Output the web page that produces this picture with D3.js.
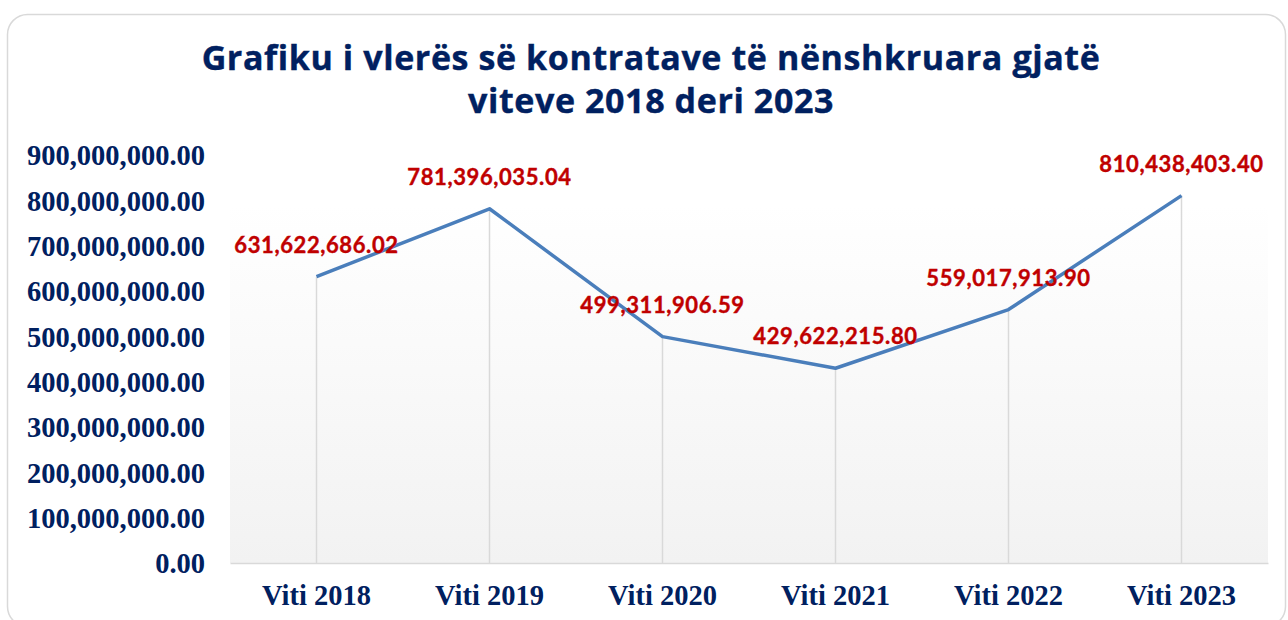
<!doctype html>
<html>
  <head>
    <meta charset="UTF-8">
    <title>Grafiku i kontratave</title>
    <style>
      body { margin: 0; background: #fff; }
      .title { font-family: "Open Sans", Lato, sans-serif; font-weight: 700; fill: #002060; }
      .yaxis text, .xaxis text { font-family: "Liberation Serif", "Times New Roman", serif; font-weight: 700; fill: #002060; }
      .lbl { font-family: Lato, "Open Sans", sans-serif; font-weight: 700; fill: #c00000; }
    </style>
  </head>
  <body>
    <svg id="chart" width="1288" height="620"></svg>
    <script src="https://cdn.jsdelivr.net/npm/d3@7"></script>
    <script>
      // data
      const years = ["Viti 2018", "Viti 2019", "Viti 2020", "Viti 2021", "Viti 2022", "Viti 2023"];
      const values = [631622686.02, 781396035.04, 499311906.59, 429622215.80, 559017913.90, 810438403.40];
      const yTicks = [0, 1e8, 2e8, 3e8, 4e8, 5e8, 6e8, 7e8, 8e8, 9e8];
      const titleLines = ["Grafiku i vlerës së kontratave të nënshkruara gjatë", "viteve 2018 deri 2023"];

      const svg = d3.select("#chart");
      const fmt = d3.format(",.2f");

      // outer frame
      svg.append("rect")
        .attr("x", 7.5).attr("y", 14.5)
        .attr("width", 1278).attr("height", 612)
        .attr("rx", 20)
        .attr("fill", "#fff")
        .attr("stroke", "#d9d9d9").attr("stroke-width", 1.5);

      // title
      svg.append("text")
        .attr("class", "title")
        .attr("text-anchor", "middle")
        .attr("font-size", 34)
        .attr("letter-spacing", 0.6)
        .attr("stroke", "#002060")
        .attr("stroke-width", 0.4)
        .selectAll("tspan")
        .data(titleLines)
        .enter().append("tspan")
          .attr("x", 651)
          .attr("y", (d, i) => 70 + i * 43)
          .text(d => d);

      const left = 230, right = 1268, plotTop = 205, bottom = 563;

      const x = d3.scaleBand().domain(years).range([left, right]);
      const cx = d => x(d) + x.bandwidth() / 2;
      const y = d3.scaleLinear().domain([0, 9e8]).range([bottom, 155]);

      // plot area gradient
      const grad = svg.append("defs").append("linearGradient")
        .attr("id", "pa").attr("x1", 0).attr("y1", 0).attr("x2", 0).attr("y2", 1);
      grad.append("stop").attr("offset", "0%").attr("stop-color", "#ffffff");
      grad.append("stop").attr("offset", "100%").attr("stop-color", "#f2f2f2");

      svg.append("rect")
        .attr("x", left).attr("y", plotTop)
        .attr("width", right - left).attr("height", bottom - plotTop)
        .attr("fill", "url(#pa)");

      // drop lines
      svg.append("g").selectAll("line")
        .data(years)
        .enter().append("line")
          .attr("x1", d => cx(d)).attr("x2", d => cx(d))
          .attr("y1", (d, i) => y(values[i])).attr("y2", bottom)
          .attr("stroke", "#d9d9d9").attr("stroke-width", 1.5);

      // axes
      const yAxis = svg.append("g")
        .attr("class", "yaxis")
        .attr("transform", `translate(${left},0)`)
        .call(d3.axisLeft(y).tickValues(yTicks).tickFormat(fmt).tickSize(0).tickPadding(25));
      yAxis.select(".domain").remove();
      yAxis.selectAll("text").attr("font-size", 28.5).attr("dy", "0.35em");

      const xAxis = svg.append("g")
        .attr("class", "xaxis")
        .attr("transform", `translate(0,${bottom})`)
        .call(d3.axisBottom(x).tickSize(0).tickPadding(22));
      xAxis.select(".domain").attr("stroke", "#d9d9d9").attr("stroke-width", 1.5);
      xAxis.selectAll("text").attr("font-size", 28.5);

      // line
      const line = d3.line()
        .x((d, i) => cx(years[i]))
        .y(d => y(d));
      svg.append("path")
        .datum(values)
        .attr("d", line)
        .attr("fill", "none")
        .attr("stroke", "#4a7ebb")
        .attr("stroke-width", 3.5)
        .attr("stroke-linejoin", "round");

      // data labels
      svg.append("g").selectAll("text")
        .data(values)
        .enter().append("text")
          .attr("class", "lbl")
          .attr("x", (d, i) => cx(years[i]))
          .attr("y", d => y(d) - 24)
          .attr("text-anchor", "middle")
          .attr("font-size", 22)
          .attr("letter-spacing", 0.6)
          .attr("stroke", "#c00000")
          .attr("stroke-width", 0.4)
          .text(d => fmt(d));
    </script>
  </body>
</html>
